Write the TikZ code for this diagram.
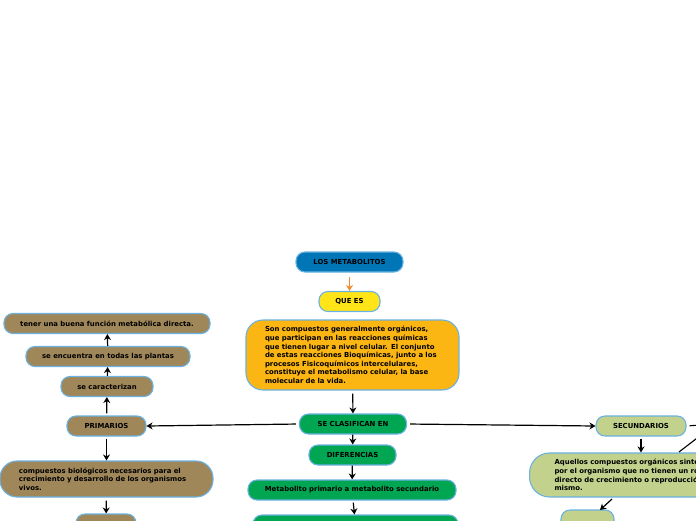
\documentclass[tikz,border=0pt]{standalone}
\usepackage{fontspec}
\setmainfont{DejaVu Sans}
\usetikzlibrary{arrows.meta}
\definecolor{borde}{RGB}{106,178,226}
\definecolor{azul}{RGB}{0,118,182}
\definecolor{amarillo}{RGB}{255,229,23}
\definecolor{ambar}{RGB}{251,182,20}
\definecolor{verde}{RGB}{0,166,81}
\definecolor{cafe}{RGB}{160,135,90}
\definecolor{oliva}{RGB}{194,209,140}
\definecolor{naranja}{RGB}{240,140,46}
\begin{document}
\begin{tikzpicture}[x=1pt,y=-1pt,
	caja/.style={draw=borde, line width=1.1pt, rounded corners=9pt, minimum height=20pt, inner sep=2pt, font=\fontsize{6.9}{8.6}\selectfont\bfseries},
	texto/.style={caja, rounded corners=17pt, align=left, inner xsep=19pt, text width=175pt},
	flecha/.style={-{Stealth[length=6pt,width=7pt]}, line width=1.2pt}]
	\useasboundingbox (0,0) rectangle (696,520);
	% centro
	\node[caja, fill=azul, minimum width=107pt] (metab) at (349.5,262) {LOS METABOLITOS};
	\node[caja, fill=amarillo, minimum width=61pt] (quees) at (349.5,301.5) {QUE ES};
	\node[texto, fill=ambar, minimum width=213pt, minimum height=70pt] (def) at (352.5,355) {Son compuestos generalmente orgánicos,\\que participan en las reacciones químicas\\que tienen lugar a nivel celular. El conjunto\\de estas reacciones Bioquímicas, junto a los\\procesos Fisicoquímicos intercelulares,\\constituye el metabolismo celular, la base\\molecular de la vida.};
	\node[caja, fill=verde, minimum width=107pt] (clasif) at (353,424) {SE CLASIFICAN EN};
	\node[caja, fill=verde, minimum width=87pt] (dif) at (352.5,455) {DIFERENCIAS};
	\node[caja, fill=verde, minimum width=208pt] (metprim) at (352,490) {Metabolito primario a metabolito secundario};
	\node[caja, fill=verde, minimum width=205pt] (verde2) at (355.5,525) {};
	% izquierda
	\node[caja, fill=cafe, minimum width=79pt] (prim) at (106.5,426) {PRIMARIOS};
	\node[caja, fill=cafe, minimum width=92pt] (caract) at (107,386.5) {se caracterizan};
	\node[caja, fill=cafe, minimum width=164pt] (encuentra) at (108,356.5) {se encuentra en todas las plantas};
	\node[caja, fill=cafe, minimum width=206pt] (tener) at (107,323.5) {tener una buena función metabólica directa.};
	\node[texto, fill=cafe, minimum width=213pt, minimum height=36pt] (compu) at (106.5,479) {compuestos biológicos necesarios para el\\crecimiento y desarrollo de los organismos\\vivos.};
	\node[caja, fill=cafe, minimum width=60pt] (cafe2) at (106,524) {};
	% derecha
	\node[caja, fill=oliva, minimum width=90pt] (secund) at (641,426) {SECUNDARIOS};
	\node[texto, fill=oliva, anchor=west, minimum height=44pt, rounded corners=20pt, inner xsep=25pt, text width=240pt] (aquel) at (529,475) {Aquellos compuestos orgánicos sintetizados\\por el organismo que no tienen un rol\\directo de crecimiento o reproducción del\\mismo.};
	\node[caja, fill=oliva, minimum width=53pt] (oliva2) at (587.5,520) {};
	\coordinate (fuera1) at (700,425);
	\coordinate (sal) at (679,452);
	\coordinate (fuera2) at (705,432);
	\coordinate (baja) at (612,499);
	\coordinate (llega) at (600,510);
	% conectores
	\draw[flecha, naranja, shorten <=4pt] (metab) -- (quees);
	\draw[flecha, shorten <=3pt] (def) -- (clasif);
	\draw[flecha] (clasif) -- (dif);
	\draw[flecha] (dif) -- (metprim);
	\draw[flecha, shorten <=2pt] (metprim) -- (verde2);
	\draw[flecha, shorten <=3pt] (clasif.west) -- (prim.east);
	\draw[flecha, shorten <=3pt] (clasif.east) -- (secund.west);
	\draw[flecha, shorten <=2pt] (prim) -- (caract);
	\draw[flecha] (caract) -- (encuentra);
	\draw[flecha] (encuentra) -- (tener);
	\draw[flecha, shorten <=2pt] (prim) -- (compu);
	\draw[flecha, shorten <=3pt] (compu) -- (cafe2);
	\draw[flecha, shorten <=2pt] (secund.south) -- (secund.south |- aquel.north);
	\draw[line width=1.1pt, shorten <=3pt] (secund.east) -- (fuera1);
	\draw[line width=1.1pt] (sal) -- (fuera2);
	\draw[flecha] (baja) -- (llega);
\end{tikzpicture}
\end{document}
